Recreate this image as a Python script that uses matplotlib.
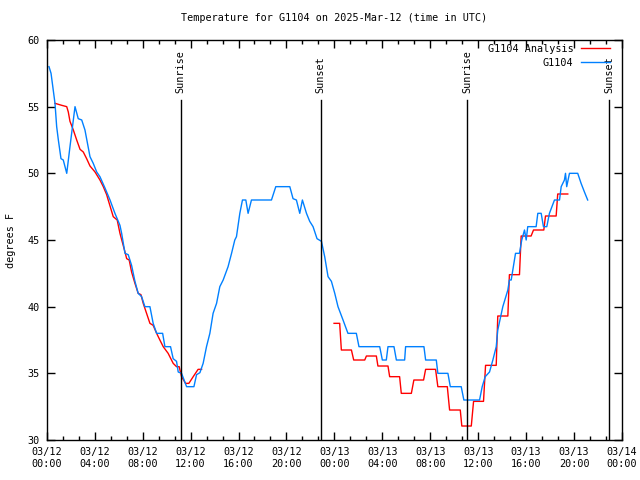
import numpy as np
import matplotlib
matplotlib.use("Agg")
import matplotlib.pyplot as plt
from matplotlib.ticker import FixedLocator, MultipleLocator

# hours since 2025-03-12 00:00 UTC
obs_hours = [0.19, 0.36, 0.55, 0.69, 0.83, 0.97, 1.19, 1.38, 1.67, 1.94, 2.22, 2.36, 2.63, 2.92,
             3.19, 3.61, 3.88, 4.17, 4.44, 4.86, 5.28, 5.69, 6.11, 6.25, 6.53, 6.8, 7.08, 7.36,
             7.63, 7.92, 8.19, 8.61, 8.88, 9.17, 9.67, 9.86, 10.33, 10.55, 10.83, 10.97, 11.25,
             11.67, 12.28, 12.5, 12.78, 13.05, 13.33, 13.61, 13.88, 14.17, 14.44, 14.72, 15.13,
             15.42, 15.69, 15.83, 16.11, 16.33, 16.61, 16.8, 17.08, 18.75, 19.11, 20.28, 20.55,
             20.83, 21.11, 21.33, 21.67, 21.94, 22.22, 22.55, 22.92, 23.19, 23.47, 23.75, 24.03,
             24.3, 24.72, 25.13, 25.83, 26.05, 27.78, 28.0, 28.33, 28.47, 28.97, 29.17, 29.86,
             29.94, 31.47, 31.61, 32.5, 32.63, 33.47, 33.67, 34.58, 34.8, 36.11, 36.33, 36.58,
             36.94, 37.22, 37.5, 37.63, 38.05, 38.47, 38.6, 38.75, 39.11, 39.44, 39.63, 39.86,
             40.0, 40.13, 40.83, 40.97, 41.25, 41.44, 41.72, 41.94, 42.36, 42.78, 42.92, 43.19,
             43.28, 43.38, 43.61, 44.3, 44.58, 44.86, 45.13]
obs_temp = [58.0, 57.5, 56.2, 55.25, 53.5, 52.5, 51.1, 51.0, 50.0, 52.0, 54.0, 55.0, 54.1, 54.0,
            53.25, 51.25, 50.75, 50.1, 49.75, 48.9, 48.0, 47.0, 46.1, 45.5, 44.0, 43.9, 43.1, 41.9,
            41.0, 40.75, 40.0, 40.0, 38.75, 38.0, 38.0, 37.0, 37.0, 36.1, 35.9, 35.1, 35.0,
            34.0, 34.0, 34.9, 35.05, 35.75, 37.0, 38.0, 39.5, 40.25, 41.5, 42.0, 43.0,
            44.0, 45.0, 45.25, 47.0, 48.0, 48.0, 47.0, 48.0, 48.0, 49.0, 49.0, 48.1,
            48.0, 47.0, 48.0, 47.0, 46.4, 46.0, 45.1, 44.9, 43.75, 42.25, 41.9, 41.0,
            40.0, 39.0, 38.0, 38.0, 37.0, 37.0, 36.0, 36.0, 37.0, 37.0, 36.0, 36.0,
            37.0, 37.0, 36.0, 36.0, 35.0, 35.0, 34.0, 34.0, 33.0, 33.0, 34.0, 34.75,
            35.1, 36.0, 37.0, 38.25, 40.0, 41.25, 42.0, 42.0, 44.0, 44.0, 45.0, 45.75,
            45.0, 46.0, 46.0, 47.0, 47.0, 46.0, 46.0, 47.0, 48.0, 48.0, 49.0, 49.5,
            50.0, 49.0, 50.0, 50.0, 49.25, 48.6, 48.0]

# analysis (NaN marks the gap in the data)
ana_hours = [0.69, 1.25, 1.67, 1.8, 1.94, 2.22, 2.5, 2.78, 3.05, 3.33, 3.61, 4.03, 4.44, 4.72,
             5.0, 5.13, 5.55, 5.88, 6.11, 6.53, 6.67, 6.88, 7.08, 7.36, 7.63, 7.86, 8.05, 8.33,
             8.61, 8.88, 9.17, 9.44, 9.72, 10.13, 10.55, 10.83, 11.05, 11.25, 11.58, 11.86,
             12.22, 12.63, 12.92, 18.0,
             23.97, 24.44, 24.58, 25.42, 25.61, 26.53, 26.67, 27.5, 27.63, 28.47, 28.61, 29.44,
             29.58, 30.42, 30.63, 31.44, 31.61, 32.44, 32.63, 33.42, 33.61, 34.5, 34.63, 35.42,
             35.61, 36.44, 36.61, 37.5, 37.63, 38.47, 38.6, 39.44, 39.58, 40.41, 40.61, 41.47,
             41.61, 42.5, 42.63, 43.47]
ana_temp = [55.25, 55.1, 55.0, 54.6, 53.9, 53.25, 52.5, 51.8, 51.6, 51.1, 50.55, 50.1, 49.5, 49.0,
            48.4, 48.0, 46.75, 46.5, 45.5, 44.1, 43.6, 43.5, 42.6, 41.75, 41.0, 40.9, 40.25, 39.5,
            38.75, 38.6, 38.0, 37.5, 37.0, 36.5, 35.75, 35.5, 35.5, 34.75, 34.25, 34.25,
            34.75, 35.3, 35.3, np.nan,
            38.75, 38.75, 36.75, 36.75, 36.0, 36.0, 36.3, 36.3, 35.55, 35.55, 34.75, 34.75,
            33.5, 33.5, 34.5, 34.5, 35.3, 35.3, 34.0, 34.0, 32.25, 32.25, 31.05, 31.05,
            32.9, 32.9, 35.6, 35.6, 39.3, 39.3, 42.4, 42.4, 45.3, 45.3, 45.75, 45.75,
            46.8, 46.8, 48.45, 48.45]

sun_hours = [11.19, 22.87, 35.1, 46.95]
sun_labels = ["Sunrise", "Sunset", "Sunrise", "Sunset"]

tick_hours = list(range(0, 49, 4))
tick_labels = ["03/12\n00:00", "03/12\n04:00", "03/12\n08:00", "03/12\n12:00", "03/12\n16:00",
               "03/12\n20:00", "03/13\n00:00", "03/13\n04:00", "03/13\n08:00", "03/13\n12:00",
               "03/13\n16:00", "03/13\n20:00", "03/14\n00:00"]

plt.rcParams['font.family'] = ['DejaVu Sans Mono']
plt.rcParams['font.size'] = 7.3

fig = plt.figure(figsize=(6.4, 4.8), dpi=100)
ax = fig.add_axes([0.073, 0.0833, 0.899, 0.8334])

ax.plot(ana_hours, ana_temp, color="#ff0000", lw=1.0, label="G1104 Analysis")
ax.plot(obs_hours, obs_temp, color="#0080ff", lw=1.0, label="G1104")

for h, lab in zip(sun_hours, sun_labels):
    ax.plot([h, h], [30, 55.5], color="black", lw=1.0)
    ax.text(h, 56.0, lab, rotation=90, ha="center", va="bottom")

ax.set_xlim(0, 48)
ax.set_ylim(30, 60)
ax.xaxis.set_major_locator(FixedLocator(tick_hours))
ax.set_xticklabels(tick_labels)
ax.xaxis.set_minor_locator(MultipleLocator(4 / 3))
ax.yaxis.set_major_locator(MultipleLocator(5))
ax.tick_params(which="both", direction="in", top=True, right=True, width=1)
ax.tick_params(which="major", length=6, pad=5)
ax.tick_params(which="minor", length=3)
for s in ax.spines.values():
    s.set_linewidth(1.0)

ax.set_title("Temperature for G1104 on 2025-Mar-12 (time in UTC)", fontsize=7.3, pad=14)
ax.set_ylabel("degrees F", labelpad=8)

ax.legend(loc="upper right", frameon=False, markerfirst=False, handlelength=2.9,
          handletextpad=0.7, borderpad=0, borderaxespad=0, labelspacing=0.35,
          bbox_to_anchor=(0.979, 0.99))

fig.savefig("out.png", dpi=100)
